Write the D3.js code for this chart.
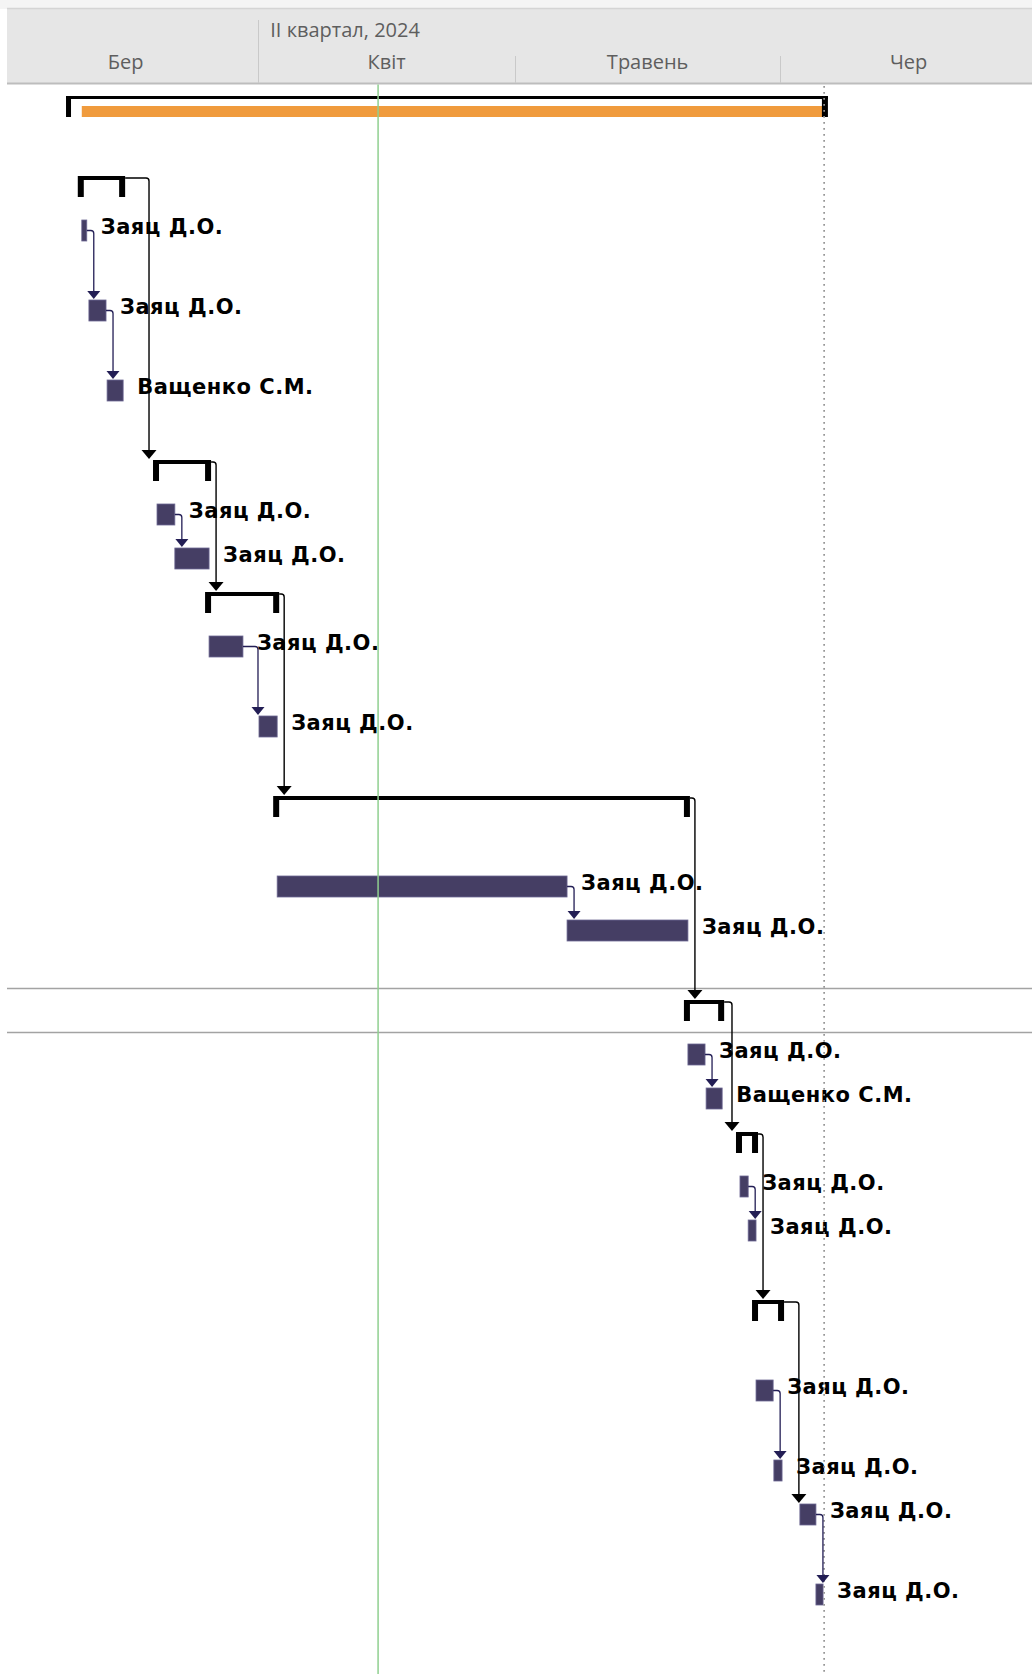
<!DOCTYPE html>
<html>
<head>
<meta charset="utf-8">
<script src="https://cdn.jsdelivr.net/npm/d3@7"></script>
<style>
  html, body { margin: 0; padding: 0; background: #ffffff; }
  svg { display: block; }
</style>
</head>
<body>
<svg id="gantt"></svg>
<script>
// ---- Timescale -------------------------------------------------------
const quarterLabel = "II квартал, 2024";
const monthLabels = ["Бер", "Квіт", "Травень", "Чер"];
const timelineStart = "2024-03-01 00:00";
const timelineEnd = "2024-07-01 00:00";
const quarterStart = "2024-04-01 00:00";
const statusDate = "2024-04-15 00:00";
const finishMarker = "2024-06-06 03:00";

// ---- Sheet rows: number of text lines in each row ---------------------
const rowLines = [2, 1, 2, 2, 2, 1, 1, 1, 1, 2, 2, 2, 1, 2, 1, 1, 1, 1, 1, 2, 2, 2, 1, 2, 2];
const selectedRow = 14;

// ---- Tasks -----------------------------------------------------------
const taskRow = [2, 3, 4, 6, 7, 9, 10, 12, 13, 15, 16, 18, 19, 21, 22, 23, 24];
const taskStart = [
  "2024-03-11 09:00", "2024-03-12 05:00", "2024-03-14 08:00",
  "2024-03-20 04:00", "2024-03-22 06:00",
  "2024-03-26 06:00", "2024-04-01 02:00",
  "2024-04-03 05:00", "2024-05-07 02:00",
  "2024-05-21 05:00", "2024-05-23 08:00",
  "2024-05-27 07:00", "2024-05-28 06:00",
  "2024-05-29 04:00", "2024-05-31 06:00",
  "2024-06-03 07:00", "2024-06-05 04:00"
];
const taskFinish = [
  "2024-03-11 23:00", "2024-03-14 05:00", "2024-03-16 05:00",
  "2024-03-22 06:00", "2024-03-26 06:00",
  "2024-03-30 05:00", "2024-04-03 05:00",
  "2024-05-07 02:00", "2024-05-21 05:00",
  "2024-05-23 05:00", "2024-05-25 05:00",
  "2024-05-28 06:00", "2024-05-29 04:00",
  "2024-05-31 04:00", "2024-06-01 05:00",
  "2024-06-05 04:00", "2024-06-06 00:00"
];
const taskResource = [
  "Заяц Д.О.", "Заяц Д.О.", "Ващенко С.М.",
  "Заяц Д.О.", "Заяц Д.О.",
  "Заяц Д.О.", "Заяц Д.О.",
  "Заяц Д.О.", "Заяц Д.О.",
  "Заяц Д.О.", "Ващенко С.М.",
  "Заяц Д.О.", "Заяц Д.О.",
  "Заяц Д.О.", "Заяц Д.О.",
  "Заяц Д.О.", "Заяц Д.О."
];

// ---- Summary tasks (span follows their subtasks) ---------------------
const summaryRow = [1, 5, 8, 11, 14, 17, 20];
const summaryChildren = [[2, 3, 4], [6, 7], [9, 10], [12, 13], [15, 16], [18, 19], [21, 22]];

// ---- Project summary -------------------------------------------------
const projectRow = 0;
const projectBaseline = ["2024-03-10 00:00", "2024-06-06 08:00"];

// ---- Finish-to-start links (predecessor row, successor row) ---------
const links = [
  [2, 3], [3, 4], [6, 7], [9, 10], [12, 13], [15, 16], [18, 19], [21, 22], [23, 24],
  [1, 5], [5, 8], [8, 11], [11, 14], [14, 17], [17, 20], [20, 23]
];

// =====================================================================
const W = 1032, H = 1674;
const paneLeft = 7;
const headerTop = 9, headerBottom = 83;
const firstRowTop = 84;
const barOffset = 12, barH = 21;

const parse = d3.utcParse("%Y-%m-%d %H:%M");

const svg = d3.select("#gantt").attr("width", W).attr("height", H);
svg.append("rect").attr("width", W).attr("height", H).attr("fill", "#ffffff");

const x = d3.scaleUtc()
  .domain([parse(timelineStart), parse(timelineEnd)])
  .range([-7, 1037]);

// row geometry
const rowHeight = rowLines.map(n => 8 + 36 * n);
const rowTop = rowHeight.map((h, i) => firstRowTop + d3.sum(rowHeight.slice(0, i)));
const barTop = r => rowTop[r] + barOffset;

// spans by row
const span = new Map();
taskRow.forEach((r, i) => span.set(r, { start: parse(taskStart[i]), end: parse(taskFinish[i]), kind: "task" }));
summaryRow.forEach((r, i) => {
  const kids = summaryChildren[i].map(k => span.get(k));
  span.set(r, { start: d3.min(kids, d => d.start), end: d3.max(kids, d => d.end), kind: "summary" });
});
const allTasks = taskRow.map(r => span.get(r));
const projectActual = { start: d3.min(allTasks, d => d.start), end: d3.max(allTasks, d => d.end) };

// ---- Header ----------------------------------------------------------
const header = svg.append("g");
header.append("rect").attr("x", 0).attr("y", 0).attr("width", W).attr("height", headerTop)
  .attr("fill", "#f4f4f4");
header.append("rect").attr("x", paneLeft).attr("y", headerTop).attr("width", W - paneLeft)
  .attr("height", headerBottom - headerTop).attr("fill", "#e6e6e6");
header.append("line").attr("x1", paneLeft).attr("x2", W).attr("y1", headerTop - 0.5).attr("y2", headerTop - 0.5)
  .attr("stroke", "#d4d4d4").attr("stroke-width", 1.5);
header.append("line").attr("x1", paneLeft).attr("x2", W).attr("y1", headerBottom + 0.5).attr("y2", headerBottom + 0.5)
  .attr("stroke", "#bdbdbd").attr("stroke-width", 2);

const monthStarts = x.ticks(d3.utcMonth.every(1));
const qStart = parse(quarterStart);
header.selectAll("line.sep")
  .data(monthStarts.filter(d => x(d) > paneLeft && x(d) < W))
  .join("line")
  .attr("class", "sep")
  .attr("x1", d => Math.round(x(d)) + 0.5).attr("x2", d => Math.round(x(d)) + 0.5)
  .attr("y1", d => +d === +qStart ? 20 : 56).attr("y2", headerBottom)
  .attr("stroke", "#c9c9c9").attr("stroke-width", 1);

const headerFont = "'Open Sans', Roboto, 'Liberation Sans', sans-serif";
header.append("text")
  .attr("x", x(qStart) + 12).attr("y", 37)
  .attr("font-family", headerFont).attr("font-size", 20)
  .attr("fill", "#5e5e5e")
  .text(quarterLabel);

header.selectAll("text.month")
  .data(monthLabels.map((m, i) => ({ m, a: monthStarts[i], b: d3.utcMonth.offset(monthStarts[i], 1) })))
  .join("text")
  .attr("class", "month")
  .attr("x", d => (x(d.a) + x(d.b)) / 2).attr("y", 69)
  .attr("text-anchor", "middle")
  .attr("font-family", headerFont).attr("font-size", 20)
  .attr("fill", "#5e5e5e")
  .text(d => d.m);

// ---- Selected row borders --------------------------------------------
const sel = svg.append("g");
[rowTop[selectedRow], rowTop[selectedRow] + rowHeight[selectedRow]].forEach(y => {
  sel.append("line").attr("x1", paneLeft).attr("x2", W).attr("y1", y + 0.5).attr("y2", y + 0.5)
    .attr("stroke", "#a3a3a3").attr("stroke-width", 1.5);
});

// ---- Project summary -------------------------------------------------
const proj = svg.append("g");
const pb0 = x(parse(projectBaseline[0])), pb1 = x(parse(projectBaseline[1]));
const pTop = barTop(projectRow);
proj.append("rect").attr("x", x(projectActual.start)).attr("y", pTop + 10)
  .attr("width", x(projectActual.end) - x(projectActual.start)).attr("height", 11)
  .attr("fill", "#f09b3d");
proj.append("rect").attr("x", pb0 - 4).attr("y", pTop).attr("width", pb1 - pb0 + 6).attr("height", 3).attr("fill", "#000");
proj.append("rect").attr("x", pb0 - 4).attr("y", pTop).attr("width", 5).attr("height", barH).attr("fill", "#000");
proj.append("rect").attr("x", pb1 - 4).attr("y", pTop).attr("width", 6).attr("height", barH).attr("fill", "#000");

// ---- Summary brackets ------------------------------------------------
const sums = svg.append("g");
summaryRow.forEach(r => {
  const s = span.get(r);
  const x0 = x(s.start), x1 = x(s.end), t = barTop(r);
  sums.append("path")
    .attr("d", `M${x0 - 4},${t}H${x1 + 2}V${t + barH}H${x1 - 4}V${t + 4}H${x0 + 2}V${t + barH}H${x0 - 4}Z`)
    .attr("fill", "#000");
});

// ---- Task bars -------------------------------------------------------
const bars = svg.append("g");
bars.selectAll("rect")
  .data(taskRow)
  .join("rect")
  .attr("x", r => x(span.get(r).start))
  .attr("y", r => barTop(r))
  .attr("width", r => Math.max(4, x(span.get(r).end) - x(span.get(r).start)))
  .attr("height", barH)
  .attr("fill", "#453e64")
  .attr("stroke", "#6d6893").attr("stroke-width", 0.8);

// ---- Resource labels -------------------------------------------------
const labels = svg.append("g");
labels.selectAll("text")
  .data(taskRow.map((r, i) => ({ r, name: taskResource[i] })))
  .join("text")
  .attr("x", d => x(span.get(d.r).end) + 14)
  .attr("y", d => barTop(d.r) + barH / 2 - 4)
  .attr("dy", "0.36em")
  .attr("font-family", "'DejaVu Sans', Verdana, sans-serif")
  .attr("font-weight", "bold")
  .attr("font-size", 21)
  .attr("letter-spacing", 0.5)
  .attr("fill", "#000")
  .text(d => d.name);

// ---- Status date and finish markers ----------------------------------
const markers = svg.append("g");
markers.append("line")
  .attr("x1", x(parse(statusDate))).attr("x2", x(parse(statusDate)))
  .attr("y1", headerBottom + 1.5).attr("y2", H)
  .attr("stroke", "#8fcf8f").attr("stroke-width", 1.5);
markers.append("line")
  .attr("x1", x(parse(finishMarker))).attr("x2", x(parse(finishMarker)))
  .attr("y1", headerBottom + 3).attr("y2", H)
  .attr("stroke", "#959595").attr("stroke-width", 1.7)
  .attr("stroke-dasharray", "1.7,4.3");

// ---- Links -----------------------------------------------------------
const linkG = svg.append("g").attr("fill", "none");
links.forEach(([p, s]) => {
  const a = span.get(p), b = span.get(s);
  const fromSummary = a.kind === "summary", toSummary = b.kind === "summary";
  const color = fromSummary ? "#000000" : "#231e55";
  const xEnd = x(a.end);
  const sx = fromSummary ? xEnd + 2 : xEnd;
  const sy = fromSummary ? barTop(p) + 2 : barTop(p) + barH / 2;
  const vx = Math.max(xEnd + 7, x(b.start) + (toSummary ? -8 : -1));
  const tipY = barTop(s) - 1;
  const ah = fromSummary ? 9 : 8, aw = fromSummary ? 7.5 : 6.5;
  linkG.append("path")
    .attr("d", `M${sx},${sy}H${vx - 3}Q${vx},${sy} ${vx},${sy + 3}V${tipY - ah + 1}`)
    .attr("stroke", color).attr("stroke-width", fromSummary ? 1.4 : 1.3);
  linkG.append("path")
    .attr("d", `M${vx - aw},${tipY - ah}H${vx + aw}L${vx},${tipY}Z`)
    .attr("fill", color);
});
</script>
</body>
</html>
